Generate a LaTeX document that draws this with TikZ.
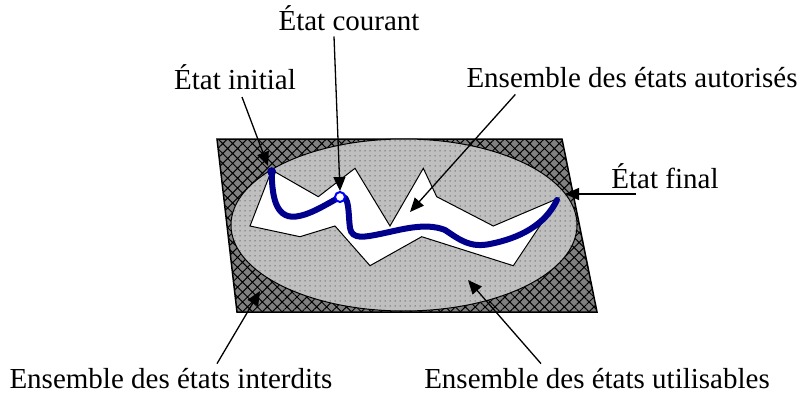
\documentclass[tikz,border=0pt]{standalone}
\usepackage{fontspec}
\setmainfont{Liberation Serif}
\usetikzlibrary{arrows.meta,patterns.meta,calc}

\definecolor{chemin}{RGB}{0,0,140}
\definecolor{courant}{RGB}{0,0,255}

\begin{document}
\begin{tikzpicture}[x=1pt,y=-1pt,font=\fontsize{29}{34}\selectfont,
lab/.style={anchor=base,inner sep=1pt},arr/.style={line width=1.3pt,-{Triangle[length=14pt,width=12pt]}}]
\useasboundingbox (0,0) rectangle (801,396);
% zone interdite
\fill[gray] (217,139) -- (562,139) -- (597,312) -- (237,312) -- cycle;
\fill[pattern={Hatch[angle=45,distance=7pt,line width=1pt]}] (217,139) -- (562,139) -- (597,312) -- (237,312) -- cycle;
\draw[line width=1.5pt] (217,139) -- (562,139) -- (597,312) -- (237,312) -- cycle;
% zone utilisable
\fill[gray!50] (404,225) ellipse [x radius=173,y radius=86];
\fill[pattern={Dots[distance=5pt,radius=0.5pt]}] (404,225) ellipse [x radius=173,y radius=86];
\draw[line width=1pt] (404,225) ellipse [x radius=173,y radius=86];
% zone autorisee
\draw[fill=white,line width=1pt] (271.7,170) -- (318.3,196.7) -- (355,168.3) -- (390,226) -- (423.3,168.3) -- (436.7,196.7) -- (493.3,226) -- (558.3,198.3) -- (513.3,265.7) -- (421.7,236.7) -- (370,265.7) -- (335,226) -- (300,236.7) -- (250,226) -- cycle;
% trajectoire
\coordinate (p0) at (271.7,171.7);
\coordinate (pc) at (340,197);
\coordinate (pf) at (557,200);
\draw[chemin,line width=6pt,line cap=round] (p0) .. controls (272,195) and (275,218) .. (295,216.7) .. controls (310,215) and (325,205) .. (pc) .. controls (350,193) and (348,215) .. (350,228) .. controls (352,240) and (365,237) .. (380,234) .. controls (400,230) and (425,222) .. (445,230) .. controls (460,240) and (470,248) .. (490,244) .. controls (520,238) and (545,225) .. (pf);
\fill[chemin] (p0) circle (4.5);
\draw[courant,fill=white,line width=2pt] (pc) circle (5);
% etiquettes
\node[lab] (ini) at (235,90) {État initial};
\node[lab] (cur) at (349,31) {État courant};
\node[lab] (aut) at (632,88) {Ensemble des états autorisés};
\node[lab] (fin) at (665,188) {État final};
\node[lab] (int) at (171,388) {Ensemble des états interdits};
\node[lab] (uti) at (597,388) {Ensemble des états utilisables};
\coordinate (tini) at (268,166);
\coordinate (tcur) at (340,191);
\coordinate (taut) at (410,212);
\coordinate (tfin) at (565,194);
\coordinate (tint) at (260,291);
\coordinate (tuti) at (468,280);
\draw[arr] (242,97) -- (tini);
\draw[arr] ($(cur.south)+(-15,4)$) -- (tcur);
\draw[arr] ($(aut.south west)+(50,5)$) -- (taut);
\draw[arr] (636,194) -- (tfin);
\draw[arr] ($(int.north)+(46,-3)$) -- (tint);
\draw[arr] ($(uti.north)+(-56,-3)$) -- (tuti);
\end{tikzpicture}
\end{document}
